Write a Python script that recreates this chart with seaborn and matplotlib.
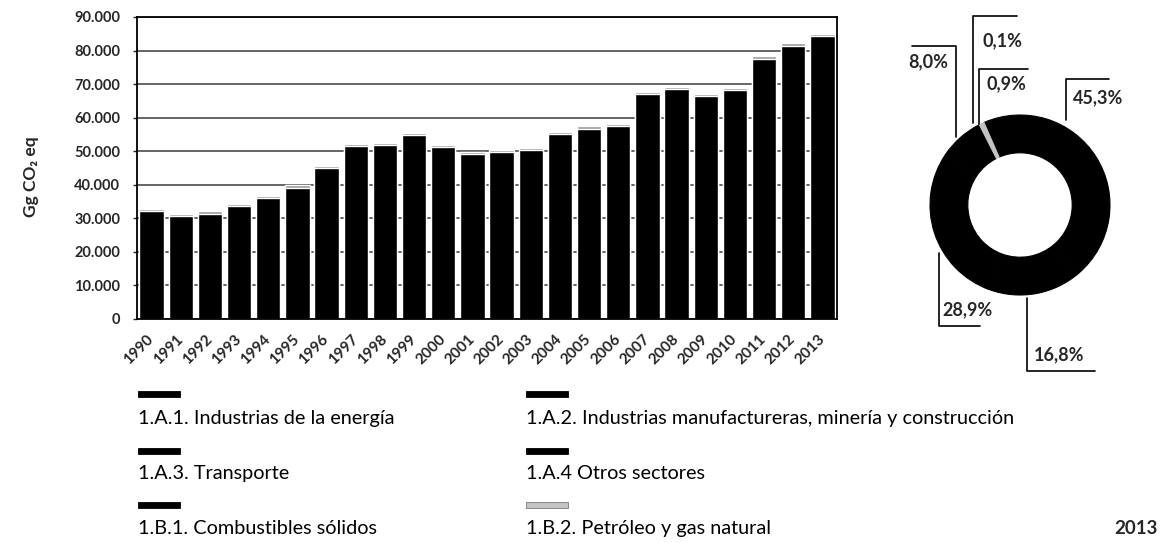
import numpy as np
import pandas as pd
import matplotlib.pyplot as plt
import seaborn as sns
from matplotlib.patches import Rectangle
from matplotlib.ticker import FuncFormatter

# datos (Gg CO2 eq)
anios = [str(a) for a in range(1990, 2014)]
total_emisiones = [32700, 31300, 32300, 34400, 36700, 39800, 45700, 52100, 52500, 55400,
                   51900, 49900, 50400, 51100, 55700, 57400, 58200, 67700, 69200, 67100,
                   68800, 78300, 82200, 85000]
# 1.B.2 (franja gris en la parte superior de cada barra)
petroleo_gas = [600, 500, 900, 800, 600, 700, 600, 600, 600, 700,
                700, 600, 600, 600, 700, 700, 700, 700, 700, 600,
                700, 700, 800, 800]

categorias = ['1.A.1. Industrias de la energía',
              '1.A.2. Industrias manufactureras, minería y construcción',
              '1.A.3. Transporte',
              '1.A.4 Otros sectores',
              '1.B.1. Combustibles sólidos',
              '1.B.2. Petróleo y gas natural']
colores = ['black', 'black', 'black', 'black', 'black', '#c4c4c4']
# reparto 2013 (%)
reparto_2013 = [45.3, 16.8, 28.9, 8.0, 0.1, 0.9]
etiquetas_2013 = ['45,3%', '16,8%', '28,9%', '8,0%', '0,1%', '0,9%']

sns.set_theme(style='white')
plt.rcParams['font.family'] = ['Lato', 'DejaVu Sans']

df = pd.DataFrame({'anio': anios, 'total': total_emisiones})
df['resto'] = df['total'] - np.array(petroleo_gas)

fig = plt.figure(figsize=(11.63, 5.43), dpi=100)

# barras
ax = fig.add_axes([137/1163, 1-319/543, 700/1163, 302/543])
sns.barplot(data=df, x='anio', y='total', color='#9a9a9a', saturation=1, width=0.83, ax=ax)
sns.barplot(data=df, x='anio', y='resto', color='black', saturation=1, width=0.83, ax=ax)
ax.set_xlim(-0.5, len(anios) - 0.5)
ax.set_ylim(0, 90000)
ax.set_yticks(range(0, 90001, 10000))
ax.yaxis.set_major_formatter(FuncFormatter(lambda v, p: f'{int(v):,}'.replace(',', '.')))
ax.yaxis.grid(True, color='#3a3a3a', lw=1.1)
ax.set_axisbelow(True)
for s in ax.spines.values():
    s.set_visible(True)
    s.set_color('black')
    s.set_linewidth(1.3)
ax.tick_params(axis='y', left=True, length=3, width=1, pad=9, labelsize=10.5)
ax.tick_params(axis='x', bottom=False, pad=7, labelsize=11)
for t in ax.get_yticklabels():
    t.set_fontweight('bold')
ax.set_xticks(range(len(anios)))
ax.set_xticklabels(anios, rotation=45, ha='right', va='center', rotation_mode='anchor',
                   fontweight='bold', fontsize=11)
ax.set_xlabel('')
ax.set_ylabel('Gg CO₂ eq', fontsize=12.5, fontweight='bold')
ax.yaxis.set_label_coords(-0.14, 0.47)

# donut 2013
dax = fig.add_axes([880/1163, 1-345/543, 280/1163, 280/543])
wedges, _ = dax.pie(reparto_2013, colors=colores, startangle=113.6, counterclock=False,
                    wedgeprops=dict(width=0.42))
for w, c in zip(wedges, colores):
    w.set_edgecolor(c)
    w.set_linewidth(0.8)
lim = 140 / 90
dax.set_xlim(-lim, lim)
dax.set_ylim(-lim, lim)
dax.set_aspect('equal')
dax.axis('off')

# lineas guia de las etiquetas
guias = {
    '45,3%': ([0.51, 0.51, 0.99], [0.94, 1.40, 1.40], (0.59, 1.19), 'left'),
    '16,8%': ([0.08, 0.08, 0.83], [-1.03, -1.84, -1.84], (0.15, -1.66), 'left'),
    '28,9%': ([-0.90, -0.90, -0.44], [-0.53, -1.34, -1.34], (-0.86, -1.16), 'left'),
    '8,0%': ([-0.71, -0.71, -1.20], [0.76, 1.77, 1.77], (-0.80, 1.59), 'right'),
    '0,1%': ([-0.52, -0.52, -0.03], [0.91, 2.10, 2.10], (-0.42, 1.83), 'left'),
    '0,9%': ([-0.46, -0.46, 0.09], [0.90, 1.51, 1.51], (-0.37, 1.35), 'left'),
}
for et in etiquetas_2013:
    xs, ys, pos, ha = guias[et]
    dax.plot(xs, ys, color='black', lw=1.2, clip_on=False)
    dax.text(pos[0], pos[1], et, ha=ha, va='center', fontsize=13, fontweight='bold',
             clip_on=False)

# leyenda
col_x = [138, 526]
fila_rect = [391, 448, 502]
fila_txt = [424, 479, 534]
W, H = 1163, 543
for i, (cat, c) in enumerate(zip(categorias, colores)):
    fila, col = i // 2, i % 2
    x0 = col_x[col]
    fig.add_artist(Rectangle((x0 / W, 1 - (fila_rect[fila] + 6) / H), 42 / W, 6 / H,
                             transform=fig.transFigure, facecolor=c,
                             edgecolor='#777777' if c != 'black' else 'black', lw=0.6))
    fig.text(x0 / W, 1 - fila_txt[fila] / H, cat, ha='left', va='baseline', fontsize=14.3,
             color='black')

fig.text(1158 / W, 1 - 534 / H, '2013', ha='right', va='baseline', fontsize=13.5,
         fontweight='bold')

fig.savefig('out.png', dpi=100)
